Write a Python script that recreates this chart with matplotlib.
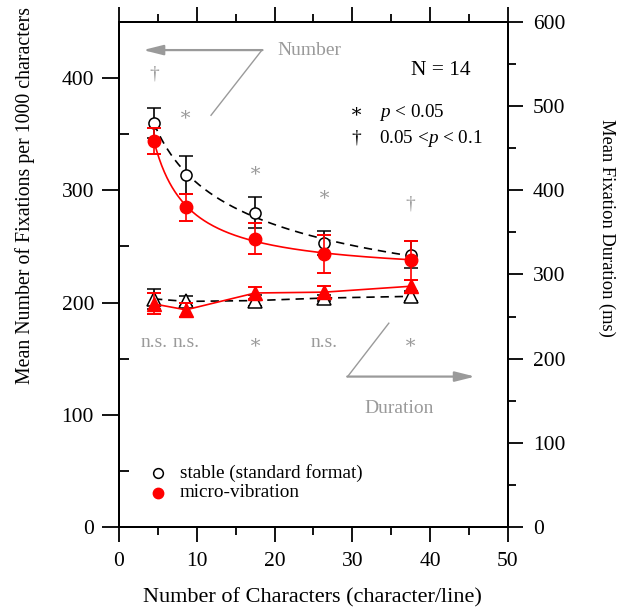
import numpy as np
import matplotlib
matplotlib.use("Agg")
import matplotlib.pyplot as plt
from matplotlib.ticker import MultipleLocator

plt.rcParams['font.family'] = ['Liberation Serif', 'DejaVu Serif']
plt.rcParams['mathtext.fontset'] = 'custom'
plt.rcParams['mathtext.rm'] = 'Liberation Serif'
plt.rcParams['mathtext.it'] = 'Liberation Serif:italic'

# data
chars = [4.5, 8.6, 17.5, 26.4, 37.5]
fix_stable = [360, 314, 280, 253, 242.5]
fix_stable_err = [13, 17, 14, 11, 12]
fix_vib = [344, 285, 257, 243.5, 237.5]
fix_vib_err = [11.5, 12, 13.5, 17, 17]
dur_stable = [271, 268, 269, 272, 274]
dur_stable_err = [12, 6, 7, 4, 6]
dur_vib = [265, 258, 278, 279, 286]
dur_vib_err = [12.5, 8, 7.5, 7.5, 8]

sig_fix = ['†', '∗', '∗', '∗', '†']
sig_fix_y = [404, 367, 317, 296, 288]
sig_dur = ['n.s.', 'n.s.', '∗', 'n.s.', '∗']
sig_dur_y = 164

gray = '#9a9a9a'


def fit_power(x, y):
    # y = a + b * x**(-p), least squares over a grid of p
    x = np.asarray(x, float)
    y = np.asarray(y, float)
    best = None
    for p in np.linspace(0.1, 3, 300):
        A = np.column_stack([np.ones_like(x), x ** (-p)])
        coef, res, _, _ = np.linalg.lstsq(A, y, rcond=None)
        r = np.sum((A @ coef - y) ** 2)
        if best is None or r < best[0]:
            best = (r, p, coef)
    _, p, (a, b) = best
    xx = np.linspace(x.min(), x.max(), 200)
    return xx, a + b * xx ** (-p)


fig = plt.figure(figsize=(6.2, 6.12), dpi=100)
ax = fig.add_axes([0.192, 0.139, 0.627, 0.825])
ax2 = ax.twinx()

ax.set_xlim(0, 50)
ax.set_ylim(0, 450)
ax2.set_ylim(0, 600)

dash = (0, (5, 3.5))

# fixations (left axis)
xx, yy = fit_power(chars, fix_stable)
ax.plot(xx, yy, color='black', lw=1.2, ls=dash, zorder=2)
ax.errorbar(chars, fix_stable, yerr=fix_stable_err, fmt='o', ms=8,
            mfc='white', mec='black', mew=1.1, ecolor='black', elinewidth=1.2,
            capsize=5, capthick=1.4, zorder=3)
xx, yy = fit_power(chars, fix_vib)
ax.plot(xx, yy, color='red', lw=1.2, zorder=4)
ax.errorbar(chars, fix_vib, yerr=fix_vib_err, fmt='o', ms=9,
            mfc='red', mec='red', ecolor='red', elinewidth=1.2,
            capsize=5, capthick=1.4, zorder=5)

# durations (right axis)
ax2.errorbar(chars, dur_stable, yerr=dur_stable_err, fmt='^', ms=9.5,
             mfc='white', mec='black', mew=1.1, color='black', ls=dash, lw=1.2,
             ecolor='black', elinewidth=1.2, capsize=5, capthick=1.4, zorder=3)
ax2.errorbar(chars, dur_vib, yerr=dur_vib_err, fmt='^-', ms=10,
             mfc='red', mec='red', color='red', lw=1.2,
             ecolor='red', elinewidth=1.2, capsize=5, capthick=1.4, zorder=5)

# significance marks
for xv, s, yv in zip(chars, sig_fix, sig_fix_y):
    ax.text(xv, yv, s, color=gray, fontsize=14, ha='center', va='center')
for xv, s in zip(chars, sig_dur):
    ax.text(xv, sig_dur_y, s, color=gray, fontsize=14, ha='center', va='center')

# arrows pointing to the axes
ax.plot([11.83, 18.38], [366.9, 425], color=gray, lw=1.0)
ax.annotate('', xy=(3.08, 425), xytext=(18.45, 425),
            arrowprops=dict(arrowstyle='-|>,head_length=0.6,head_width=0.15',
                            color=gray, lw=1.6, mutation_scale=20, shrinkA=0, shrinkB=0))
ax.text(20.4, 420.9, 'Number', color=gray, fontsize=14, ha='left', va='baseline')
ax.plot([34.7, 29.4], [181.6, 134], color=gray, lw=1.0)
ax.annotate('', xy=(45.8, 134), xytext=(29.35, 134),
            arrowprops=dict(arrowstyle='-|>,head_length=0.6,head_width=0.15',
                            color=gray, lw=1.6, mutation_scale=20, shrinkA=0, shrinkB=0))
ax.text(31.6, 101.7, 'Duration', color=gray, fontsize=14, ha='left', va='baseline')

# text legends
ax.text(0.752, 0.895, 'N = 14', transform=ax.transAxes, fontsize=15.5, va='baseline')
ax.text(0.611, 0.8125, '∗', transform=ax.transAxes, fontsize=14, ha='center', va='baseline')
ax.text(0.669, 0.8125, '$p$ < 0.05', transform=ax.transAxes, fontsize=13.8, va='baseline')
ax.text(0.611, 0.761, '†', transform=ax.transAxes, fontsize=14, ha='center', va='baseline')
ax.text(0.669, 0.761, '0.05 <$p$ < 0.1', transform=ax.transAxes, fontsize=13.8, va='baseline')

ax.plot([0.1], [0.107], 'o', ms=7, mfc='white', mec='black', mew=1.1, transform=ax.transAxes)
ax.plot([0.1], [0.067], 'o', ms=7.5, mfc='red', mec='red', transform=ax.transAxes)
ax.text(0.157, 0.0964, 'stable (standard format)', transform=ax.transAxes, fontsize=13.8, va='baseline')
ax.text(0.157, 0.060, 'micro-vibration', transform=ax.transAxes, fontsize=13.8, va='baseline')

# ticks and spines
ax.xaxis.set_major_locator(MultipleLocator(10))
ax.xaxis.set_minor_locator(MultipleLocator(5))
ax.yaxis.set_major_locator(MultipleLocator(100))
ax.yaxis.set_minor_locator(MultipleLocator(50))
ax2.yaxis.set_major_locator(MultipleLocator(100))
ax2.yaxis.set_minor_locator(MultipleLocator(50))

ax.tick_params(axis='x', which='major', direction='out', length=11, width=1.3,
               labelsize=15.5, top=True, pad=7)
ax.tick_params(axis='x', which='minor', direction='out', length=6, width=1.3, top=True)
ax.tick_params(axis='y', which='major', direction='out', length=12, width=1.3, labelsize=15.5, pad=6)
ax.tick_params(axis='y', which='minor', direction='in', length=7, width=1.3)
ax2.tick_params(axis='y', which='major', direction='out', length=11, width=1.3, labelsize=15.5, pad=7)
ax2.tick_params(axis='y', which='minor', direction='out', length=6, width=1.3)
for a in (ax, ax2):
    for sp in a.spines.values():
        sp.set_linewidth(1.4)

fig.text(25 / 620, 0.681, 'Mean Number of Fixations per 1000 characters',
         rotation=90, ha='center', va='center', fontsize=14.3)
fig.text(607 / 620, 0.627, 'Mean Fixation Duration (ms)',
         rotation=-90, ha='center', va='center', fontsize=13.3)
fig.text(0.504, 0.023, 'Number of Characters (character/line)',
         ha='center', va='center', fontsize=16)

fig.savefig('out.png', dpi=100)
